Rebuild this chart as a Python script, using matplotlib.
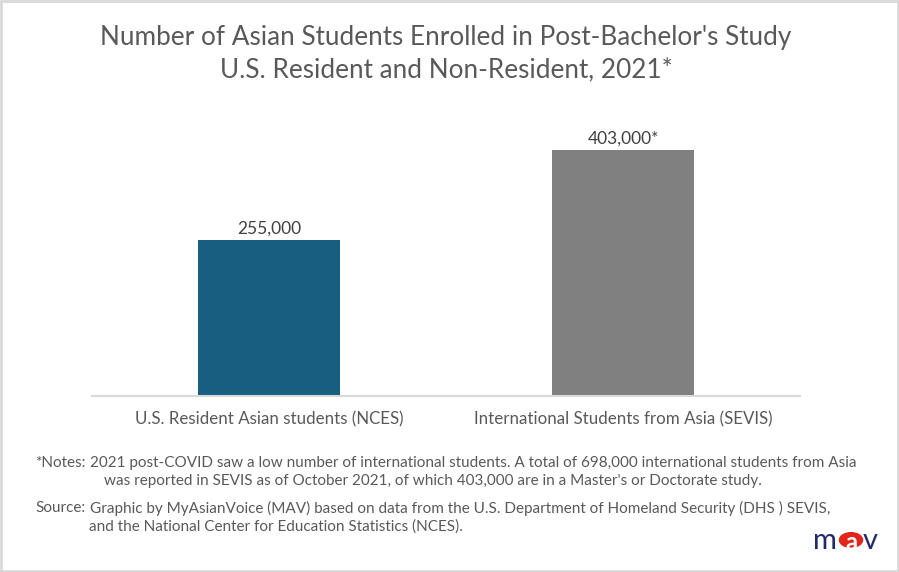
import matplotlib
matplotlib.use('Agg')
import matplotlib.pyplot as plt
from matplotlib.patches import Circle, Rectangle

categories = ['U.S. Resident Asian students (NCES)', 'International Students from Asia (SEVIS)']
values = [255000, 403000]
value_labels = ['255,000', '403,000*']
bar_colors = ['#175E81', '#808080']

title_lines = "Number of Asian Students Enrolled in Post-Bachelor's Study\nU.S. Resident and Non-Resident, 2021*"
notes_lines = [
    '2021 post-COVID saw a low number of international students. A total of 698,000 international students from Asia',
    "was reported in SEVIS as of October 2021, of which 403,000 are in a Master's or Doctorate study.",
]
source_lines = [
    'Graphic by MyAsianVoice (MAV) based on data from the U.S. Department of Homeland Security (DHS ) SEVIS,',
    'and the National Center for Education Statistics (NCES).',
]

plt.rcParams['font.family'] = ['Lato', 'DejaVu Sans']
text_color = '#595959'

W, H = 899, 572
fig = plt.figure(figsize=(W / 100, H / 100), dpi=100)
ax = fig.add_axes([92 / W, 1 - 396 / H, 708 / W, (396 - 121) / H])

x = range(len(categories))
ax.bar(x, values, width=0.4, color=bar_colors, zorder=2)
for xi, v, lab in zip(x, values, value_labels):
    ax.text(xi, v + 5000, lab, ha='center', va='bottom', fontsize=12.5, color='#404040')

ax.set_xlim(-0.5, 1.5)
ax.set_ylim(0, 450000)
ax.set_yticks([])
ax.set_xticks(list(x))
ax.set_xticklabels(categories, fontsize=12.2, color=text_color)
ax.tick_params(axis='x', length=0, pad=11)
for side in ['top', 'left', 'right']:
    ax.spines[side].set_visible(False)
ax.spines['bottom'].set_color('#D9D9D9')
ax.spines['bottom'].set_linewidth(1.5)

fig.text(446 / W, 1 - 54 / H, title_lines, ha='center', va='center', fontsize=18.8,
         color=text_color, linespacing=1.35)

fs = 11
fig.text(86 / W, 1 - 463 / H, '*Notes:', ha='right', va='center', fontsize=fs, color=text_color)
fig.text(90 / W, 1 - 463 / H, notes_lines[0], ha='left', va='center', fontsize=fs, color=text_color)
fig.text(104 / W, 1 - 481 / H, notes_lines[1], ha='left', va='center', fontsize=fs, color=text_color)
fig.text(86 / W, 1 - 508 / H, 'Source:', ha='right', va='center', fontsize=fs, color=text_color)
fig.text(90 / W, 1 - 508 / H, source_lines[0], ha='left', va='center', fontsize=fs, color=text_color)
fig.text(89 / W, 1 - 527 / H, source_lines[1], ha='left', va='center', fontsize=fs, color=text_color)

# logo
navy = '#1F2A6B'
fig.text(825 / W, 1 - 541 / H, 'm', ha='center', va='center', fontsize=21, color=navy)
fig.patches.append(Circle((851 / W, 1 - 540 / H), 11.5 / W, transform=fig.transFigure,
                          color='#E3241B', zorder=3))
fig.text(851 / W, 1 - 542 / H, 'a', ha='center', va='center', fontsize=17, color='white',
         fontweight='bold', zorder=4)
fig.text(870 / W, 1 - 541 / H, 'v', ha='center', va='center', fontsize=21, color=navy)

fig.patches.append(Rectangle((0.001, 0.001), 0.998, 0.998, transform=fig.transFigure,
                             fill=False, edgecolor='#D9D9D9', linewidth=2))

fig.savefig('out.png', dpi=100)
